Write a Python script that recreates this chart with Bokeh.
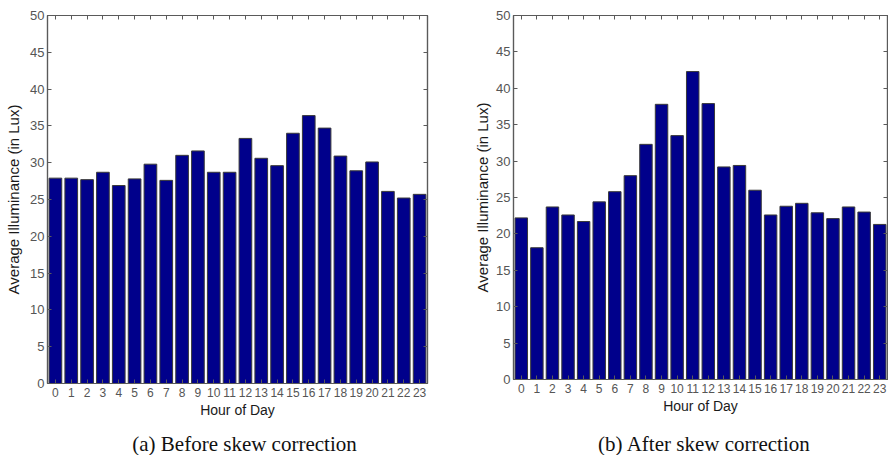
from bokeh.plotting import figure
from bokeh.layouts import row, column
from bokeh.models import Range1d, FixedTicker, LinearAxis, Label
from bokeh.embed import file_html
from bokeh.resources import INLINE

# Hourly average illuminance (lux)
hours = list(range(24))
hour_labels = [str(h) for h in hours]
before_skew = [27.9, 27.9, 27.7, 28.7, 26.9, 27.8, 29.8, 27.6, 31.0, 31.6,
               28.7, 28.7, 33.3, 30.6, 29.6, 34.0, 36.4, 34.7, 30.9, 28.9,
               30.1, 26.1, 25.2, 25.7]
after_skew = [22.2, 18.1, 23.7, 22.6, 21.7, 24.4, 25.8, 28.0, 32.3, 37.8,
              33.5, 42.3, 37.9, 29.2, 29.4, 26.0, 22.6, 23.8, 24.2, 22.9,
              22.1, 23.7, 23.0, 21.3]
y_ticks = list(range(0, 51, 5))
captions = ["(a) Before skew correction", "(b) After skew correction"]

BAR_FILL = "#00008B"
BAR_EDGE = "#3a3a3a"
FRAME = "#5a5a5a"
TICK_TEXT = "#555555"
LABEL_TEXT = "#1a1a1a"
SANS = "Liberation Sans"
SERIF = "Liberation Serif"

PANEL_W = 444
CAPTION_H = 26


def make_panel(values, height, borders, y_label_standoff):
    left, right, top, bottom = borders
    p = figure(width=PANEL_W, height=height, output_backend="svg",
               toolbar_location=None, x_range=Range1d(-0.5, 23.5),
               y_range=Range1d(0, 50), x_axis_location=None,
               y_axis_location=None,
               min_border_left=left, min_border_right=right,
               min_border_top=top, min_border_bottom=bottom)
    p.vbar(x=hours, top=values, width=0.8, fill_color=BAR_FILL,
           line_color=BAR_EDGE, line_width=1)
    p.xgrid.visible = False
    p.ygrid.visible = False
    p.outline_line_color = FRAME
    p.outline_line_width = 1.2

    xt = FixedTicker(ticks=hours)
    yt = FixedTicker(ticks=y_ticks)

    bottom_ax = LinearAxis(ticker=xt)
    left_ax = LinearAxis(ticker=yt)
    # mirrored axes on top and right, ticks only
    top_ax = LinearAxis(ticker=xt, major_label_text_font_size="0px",
                        major_label_standoff=0)
    right_ax = LinearAxis(ticker=yt, major_label_text_font_size="0px",
                          major_label_standoff=0)
    p.add_layout(bottom_ax, "below")
    p.add_layout(left_ax, "left")
    p.add_layout(top_ax, "above")
    p.add_layout(right_ax, "right")

    for ax in (bottom_ax, left_ax, top_ax, right_ax):
        ax.axis_line_color = FRAME
        ax.axis_line_width = 1.2
        ax.major_tick_in = 4
        ax.major_tick_out = 0
        ax.major_tick_line_color = FRAME
        ax.minor_tick_line_color = None
    for ax in (top_ax, right_ax):
        ax.major_label_text_color = None

    bottom_ax.major_label_overrides = {h: s for h, s in zip(hours, hour_labels)}
    bottom_ax.major_label_text_font = SANS
    bottom_ax.major_label_text_font_size = "12px"
    bottom_ax.major_label_text_color = TICK_TEXT
    bottom_ax.major_label_standoff = 4
    bottom_ax.axis_label = "Hour of Day"
    bottom_ax.axis_label_text_font = SANS
    bottom_ax.axis_label_text_font_size = "14px"
    bottom_ax.axis_label_text_font_style = "normal"
    bottom_ax.axis_label_text_color = LABEL_TEXT
    bottom_ax.axis_label_standoff = 2

    left_ax.major_label_text_font = SANS
    left_ax.major_label_text_font_size = "13px"
    left_ax.major_label_text_color = TICK_TEXT
    left_ax.major_label_standoff = 3
    left_ax.axis_label = "Average Illuminance (in Lux)"
    left_ax.axis_label_text_font = SANS
    left_ax.axis_label_text_font_size = "15px"
    left_ax.axis_label_text_font_style = "normal"
    left_ax.axis_label_text_color = LABEL_TEXT
    left_ax.axis_label_standoff = y_label_standoff
    return p


def make_caption(text, cx):
    c = figure(width=PANEL_W, height=CAPTION_H, output_backend="svg",
               toolbar_location=None, x_axis_location=None,
               y_axis_location=None, min_border_left=0, min_border_right=0,
               min_border_top=0, min_border_bottom=0)
    c.outline_line_color = None
    c.xgrid.visible = False
    c.ygrid.visible = False
    c.add_layout(Label(x=cx, y=12, x_units="screen", y_units="screen",
                       text=text, text_align="center", text_baseline="middle",
                       text_font=SERIF, text_font_size="21px",
                       text_color="#111111"))
    return c


left_panel = make_panel(before_skew, 429, (47, 17, 15, 46), 5)
right_panel = make_panel(after_skew, 425, (69, 1, 15, 46), 2)
left_caption = make_caption(captions[0], 244)
right_caption = make_caption(captions[1], 260)

layout = column(row(left_panel, right_panel, spacing=0),
                row(left_caption, right_caption, spacing=0), spacing=0)
open("out.html", "w").write(file_html(layout, INLINE))
